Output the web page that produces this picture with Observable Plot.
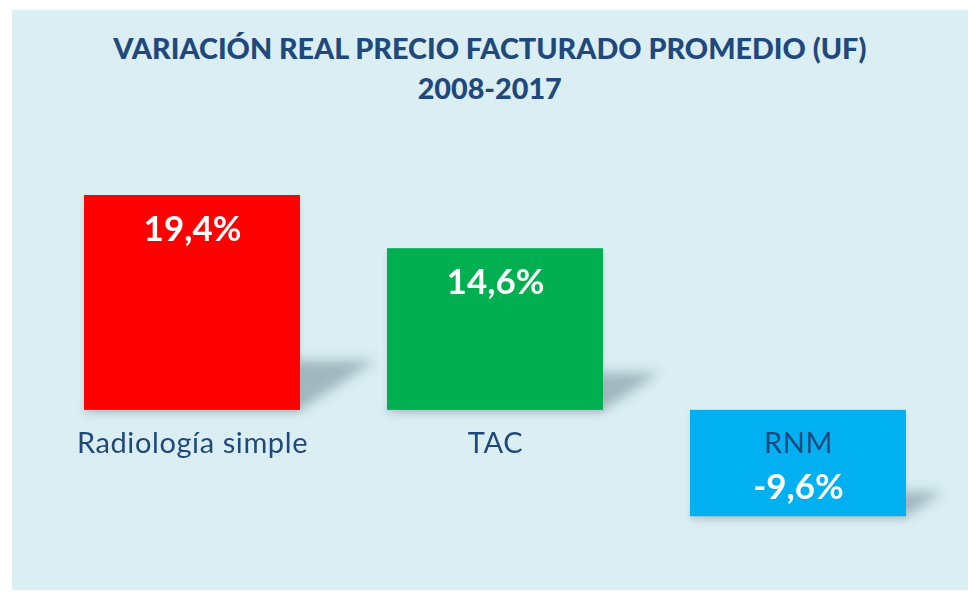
<!DOCTYPE html>
<html><head><meta charset="utf-8">
<script src="https://cdn.jsdelivr.net/npm/d3@7"></script>
<script src="https://cdn.jsdelivr.net/npm/@observablehq/plot@0.6"></script>
<style>
html,body{margin:0;padding:0;background:#fff;}
#panel{position:absolute;left:12px;top:10px;width:956px;height:580px;background:#DAEEF3;overflow:hidden;}
#title{position:absolute;left:0;top:18px;width:100%;text-align:center;font-family:"Lato";font-weight:900;font-size:29px;line-height:40px;color:#1F497D;}
#title span{display:inline-block;white-space:nowrap;transform-origin:center;}
#chart{position:absolute;left:0;top:110px;}
</style></head><body>
<div id="panel"><div id="title"><span id="t1">VARIACIÓN REAL PRECIO FACTURADO PROMEDIO (UF)</span><br><span id="t2">2008-2017</span></div><div id="chart"></div></div>
<script>
const categories = ["Radiología simple", "TAC", "RNM"];
const values = [19.4, 14.6, -9.6];
const valueLabels = ["19,4%", "14,6%", "-9,6%"];
const colors = ["#FF0000", "#00B050", "#00B0F0"];

const data = categories.map((c, i) => ({category: c, value: values[i], label: valueLabels[i], color: colors[i]}));

// condense title to the reference's narrow lettering
const t1 = document.getElementById("t1");
const sx = 753 / t1.getBoundingClientRect().width;
t1.style.transform = `scaleX(${sx})`;
document.getElementById("t2").style.transform = `scaleX(${sx})`;

const chart = Plot.plot({
  width: 956,
  height: 470,
  marginLeft: 71,
  marginRight: 60,
  marginTop: 13,
  marginBottom: 14,
  style: {background: "transparent"},
  x: {domain: categories, axis: null, paddingInner: 0.286, paddingOuter: 0},
  y: {domain: [-15, 25], axis: null},
  marks: [
    Plot.barY(data, {x: "category", y: "value", fill: "#8A9EA8", className: "shadow"}),
    Plot.barY(data, {x: "category", y: "value", fill: "#9AAAB2", className: "under"}),
    Plot.barY(data, {x: "category", y: "value", fill: d => d.color}),
    Plot.text(data, {x: "category", y: () => 0, text: "category", dy: 33, fontSize: 29, fontFamily: "Lato", fill: "#1F497D", className: "cat"}),
    Plot.text(data, {filter: d => d.value >= 0, x: "category", y: "value", text: "label", dy: 34, fontSize: 35, fontWeight: "bold", fontFamily: "Lato", fill: "white"}),
    Plot.text(data, {filter: d => d.value < 0, x: "category", y: "value", text: "label", dy: -29, fontSize: 35, fontWeight: "bold", fontFamily: "Lato", fill: "white"})
  ]
});
document.getElementById("chart").appendChild(chart);

const svg = d3.select(chart);
svg.selectAll("g.cat text").style("letter-spacing", "0.6px");
const defs = svg.insert("defs", ":first-child");
defs.append("filter").attr("id", "blurShadow").attr("filterUnits", "userSpaceOnUse")
  .attr("x", 0).attr("y", 0).attr("width", 956).attr("height", 470)
  .append("feGaussianBlur").attr("stdDeviation", 6);
defs.append("filter").attr("id", "blurUnder").attr("filterUnits", "userSpaceOnUse")
  .attr("x", 0).attr("y", 0).attr("width", 956).attr("height", 470)
  .append("feGaussianBlur").attr("stdDeviation", 2.5);

const k = 0.35, s = 0.23;
svg.select("g.shadow").attr("filter", "url(#blurShadow)").attr("opacity", 0.7);
svg.selectAll("g.shadow rect").each(function() {
  const r = d3.select(this);
  const yb = +r.attr("y") + +r.attr("height");
  r.attr("transform", `matrix(1,0,${-k},${s},${k * yb},${(1 - s) * yb})`);
});
svg.select("g.under").attr("filter", "url(#blurUnder)").attr("opacity", 0.35);
svg.selectAll("g.under rect").attr("transform", "translate(0,3)");
</script>
</body></html>
